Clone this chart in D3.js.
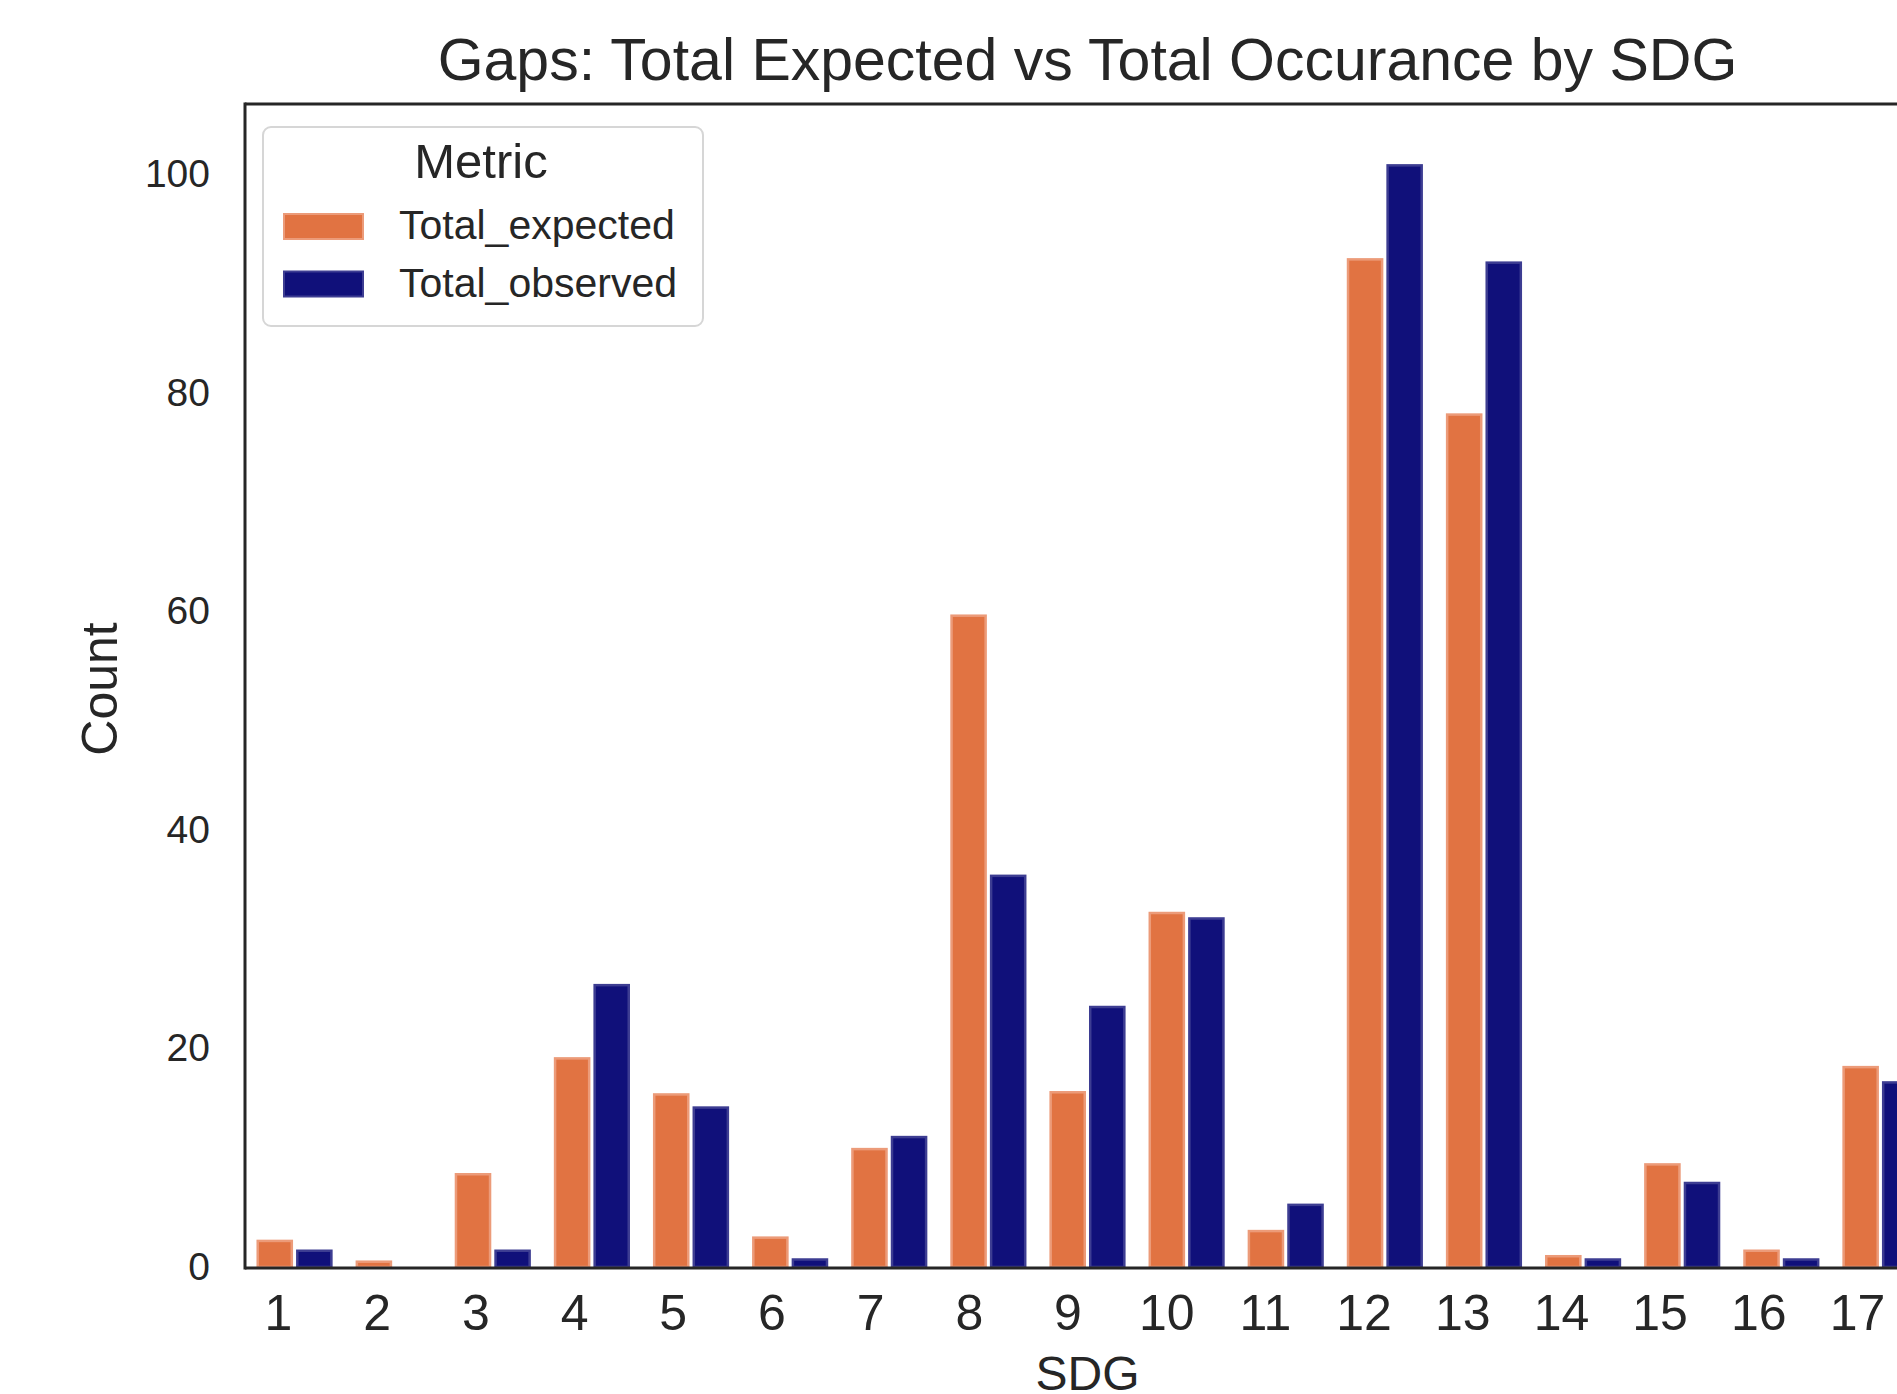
<!DOCTYPE html>
<html>
<head>
<meta charset="utf-8">
<script src="https://cdn.jsdelivr.net/npm/d3@7"></script>
<style>
    html, body { margin: 0; padding: 0; background: #fff; overflow: hidden; }
    text { font-family: "Liberation Sans", Arial, sans-serif; fill: #262626; }
</style>
</head>
<body>
<div id="chart"></div>
<script>
// values
const sdgs = ["1", "2", "3", "4", "5", "6", "7", "8", "9", "10", "11", "12", "13", "14", "15", "16", "17"];
const metrics = ["Total_expected", "Total_observed"];
const totalExpected = [2.5, 0.6, 8.6, 19.2, 15.9, 2.8, 10.9, 59.7, 16.1, 32.5, 3.4, 92.3, 78.1, 1.1, 9.5, 1.6, 18.4];
const totalObserved = [1.6, 0, 1.6, 25.9, 14.7, 0.8, 12.0, 35.9, 23.9, 32.0, 5.8, 100.9, 92.0, 0.8, 7.8, 0.8, 17.0];
const yTicks = [0, 20, 40, 60, 80, 100];

/*
    Grouped bar chart, expected vs observed per SDG
*/
GapsChart = function(_parentElement, _data) {
    this.parentElement = _parentElement;
    this.data = _data;

    this.initVis();
}

GapsChart.prototype.initVis = function() {
    let vis = this;

    vis.width = 1897;
    vis.height = 1394;
    // the axes run past the right edge of the picture, as in the reference
    vis.plot = { left: 245, top: 104, right: 1930, bottom: 1267 };

    vis.svg = d3.select("#" + vis.parentElement)
        .append("svg")
        .attr("width", vis.width)
        .attr("height", vis.height);

    vis.x = d3.scaleBand()
        .domain(sdgs)
        .range([vis.plot.left, vis.plot.right])
        .padding(0);

    vis.xInner = d3.scaleBand()
        .domain(metrics)
        .range([0, vis.x.bandwidth()])
        .paddingInner(0.076)
        .paddingOuter(0.29);

    // tick labels sit a little left of the bar groups in the reference
    vis.xLabels = d3.scalePoint()
        .domain(sdgs)
        .range([278, 1857]);

    vis.y = d3.scaleLinear()
        .domain([0, 106.4])
        .range([vis.plot.bottom, vis.plot.top]);

    vis.color = d3.scaleOrdinal()
        .domain(metrics)
        .range(["#e17342", "#10107a"]);

    vis.edge = d3.scaleOrdinal()
        .domain(metrics)
        .range(["#ec9b79", "#3d3d92"]);

    vis.wrangleData();
}

GapsChart.prototype.wrangleData = function() {
    let vis = this;

    vis.bars = [];
    vis.data.forEach((d) => {
        metrics.forEach((m) => {
            vis.bars.push({ sdg: d.sdg, metric: m, value: d[m] });
        });
    });

    vis.updateVis();
}

GapsChart.prototype.updateVis = function() {
    let vis = this;
    const sw = 2.5;

    // bars
    vis.svg.append("g")
        .selectAll("rect")
        .data(vis.bars.filter((d) => d.value > 0))
        .enter()
        .append("rect")
        .attr("x", (d) => vis.x(d.sdg) + vis.xInner(d.metric) + sw / 2)
        .attr("y", (d) => vis.y(d.value) + sw / 2)
        .attr("width", vis.xInner.bandwidth() - sw)
        .attr("height", (d) => Math.max(0, vis.y(0) - vis.y(d.value) - sw / 2))
        .attr("fill", (d) => vis.color(d.metric))
        .attr("stroke", (d) => vis.edge(d.metric))
        .attr("stroke-width", sw);

    // y axis
    vis.svg.append("g")
        .attr("transform", "translate(" + vis.plot.left + ",0)")
        .call(d3.axisLeft(vis.y).tickValues(yTicks).tickSize(0).tickPadding(35))
        .call((g) => g.select(".domain").remove())
        .selectAll("text")
        .style("font-size", "39px")
        .style("font-family", "Liberation Sans, Arial, sans-serif")
        .attr("fill", "#262626");

    // x axis
    vis.svg.append("g")
        .attr("transform", "translate(0," + (vis.plot.bottom + 1) + ")")
        .call(d3.axisBottom(vis.xLabels).tickSize(0).tickPadding(26))
        .call((g) => g.select(".domain").remove())
        .selectAll("text")
        .style("font-size", "50px")
        .style("font-family", "Liberation Sans, Arial, sans-serif")
        .attr("fill", "#262626");

    // spines
    const spine = "#262626";
    vis.svg.append("line")
        .attr("x1", vis.plot.left).attr("x2", vis.plot.right)
        .attr("y1", vis.plot.top).attr("y2", vis.plot.top)
        .attr("stroke", spine).attr("stroke-width", 3);
    vis.svg.append("line")
        .attr("x1", vis.plot.left).attr("x2", vis.plot.right)
        .attr("y1", vis.plot.bottom + 1).attr("y2", vis.plot.bottom + 1)
        .attr("stroke", spine).attr("stroke-width", 3);
    vis.svg.append("line")
        .attr("x1", vis.plot.left).attr("x2", vis.plot.left)
        .attr("y1", vis.plot.top - 1.5).attr("y2", vis.plot.bottom + 2.5)
        .attr("stroke", spine).attr("stroke-width", 3);

    const midX = (vis.plot.left + vis.plot.right) / 2;

    // title
    vis.svg.append("text")
        .attr("x", midX)
        .attr("y", 80)
        .attr("text-anchor", "middle")
        .style("font-size", "59px")
        .text("Gaps: Total Expected vs Total Occurance by SDG");

    // axis labels
    vis.svg.append("text")
        .attr("x", midX)
        .attr("y", 1390)
        .attr("text-anchor", "middle")
        .style("font-size", "48px")
        .text("SDG");

    vis.svg.append("text")
        .attr("transform", "translate(117,689) rotate(-90)")
        .attr("text-anchor", "middle")
        .style("font-size", "50px")
        .text("Count");

    // legend
    const legend = vis.svg.append("g");

    legend.append("rect")
        .attr("x", 263).attr("y", 127)
        .attr("width", 440).attr("height", 199)
        .attr("rx", 8)
        .attr("fill", "#fff")
        .attr("stroke", "#d6d6d6")
        .attr("stroke-width", 2);

    legend.append("text")
        .attr("x", 481).attr("y", 178)
        .attr("text-anchor", "middle")
        .style("font-size", "49px")
        .text("Metric");

    const items = legend.selectAll(".legend-item")
        .data(metrics)
        .enter()
        .append("g")
        .attr("class", "legend-item")
        .attr("transform", (d, i) => "translate(283," + (213 + i * 57.5) + ")");

    items.append("rect")
        .attr("x", 1).attr("y", 1)
        .attr("width", 79).attr("height", 25)
        .attr("fill", (d) => vis.color(d))
        .attr("stroke", (d) => vis.edge(d))
        .attr("stroke-width", 2);

    items.append("text")
        .attr("x", 116).attr("y", 26)
        .style("font-size", "41px")
        .text((d) => d);
}

const rows = sdgs.map((s, i) => ({
    sdg: s,
    Total_expected: totalExpected[i],
    Total_observed: totalObserved[i]
}));

new GapsChart("chart", rows);
</script>
</body>
</html>
